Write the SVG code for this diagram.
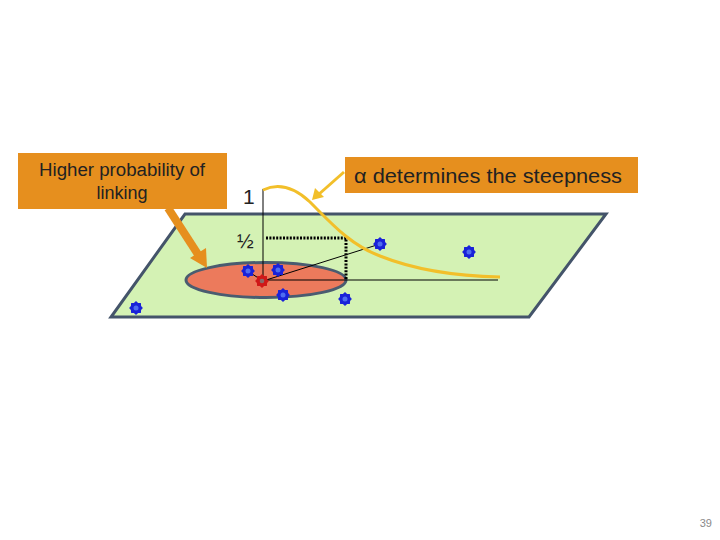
<svg xmlns="http://www.w3.org/2000/svg" xmlns:xlink="http://www.w3.org/1999/xlink" width="720" height="540" viewBox="0 0 720 540">
<style>
  .lbl { font-family: "Liberation Sans", Arial, sans-serif; fill: #222; }
  .thin { stroke: #000; stroke-width: 1; fill: none; }
  .dots { stroke: #000; stroke-width: 3; stroke-dasharray: 2 1.4; fill: none; }
</style>
<defs>
  <polygon id="gear" transform="scale(1.15)" points="6,0 4.43,1.84 4.24,4.24 1.84,4.43 0,6 -1.84,4.43 -4.24,4.24 -4.43,1.84 -6,0 -4.43,-1.84 -4.24,-4.24 -1.84,-4.43 0,-6 1.84,-4.43 4.24,-4.24 4.43,-1.84"/>
  <g id="bnode"><use xlink:href="#gear" fill="#1a22d8"/><circle r="2.5" fill="#4f6cf0"/></g>
  <g id="rnode"><use xlink:href="#gear" fill="#d01818"/><circle r="2.3" fill="#8a6a6a"/></g>
</defs>
<rect width="720" height="540" fill="#fff"/>

<g id="plane">
  <polygon points="185,214 606,214 529,317 111,317" fill="#d4f2b4" stroke="#44546a" stroke-width="3"/>
</g>
<g id="region">
  <ellipse cx="266" cy="280" rx="80" ry="17.5" fill="#ec7a5c" stroke="#4a5c70" stroke-width="3"/>
</g>

<g id="connectors">
  <line class="thin" x1="263" y1="189" x2="263" y2="281"/>
  <line class="thin" x1="263" y1="280" x2="498" y2="280"/>
  <line class="thin" x1="263" y1="281" x2="380" y2="244"/>
  <line class="thin" x1="249" y1="272" x2="263" y2="281"/>
  <polyline class="dots" points="266,238 346,238 346,280"/>
  <path d="M263,190 C280,182 295,188 310,202 C330,222 350,245 380,256 C410,268 450,276 500,277" fill="none" stroke="#f2bf2a" stroke-width="3"/>
</g>

<g id="nodes">
  <use xlink:href="#bnode" x="136" y="308"/>
  <use xlink:href="#bnode" x="248" y="271"/>
  <use xlink:href="#bnode" x="278" y="270"/>
  <use xlink:href="#bnode" x="283" y="295"/>
  <use xlink:href="#bnode" x="345" y="299"/>
  <use xlink:href="#bnode" x="380" y="244"/>
  <use xlink:href="#bnode" x="469" y="252"/>
  <use xlink:href="#rnode" x="262" y="281"/>
</g>

<g id="axis-labels">
  <text class="lbl" x="243" y="204" font-size="21">1</text>
  <text class="lbl" x="237" y="248" font-size="20">½</text>
</g>

<g id="callout-linking">
  <rect x="18" y="153" width="209" height="56" fill="#e68f1e"/>
  <text class="lbl" x="122" y="176" font-size="18" text-anchor="middle" textLength="166" lengthAdjust="spacingAndGlyphs">Higher probability of</text>
  <text class="lbl" x="122" y="199" font-size="18" text-anchor="middle">linking</text>
  <line x1="168" y1="208" x2="199" y2="256" stroke="#e68f1e" stroke-width="8"/>
  <polygon points="207,268 190,258 206,248" fill="#e68f1e"/>
</g>

<g id="callout-alpha">
  <rect x="345" y="157" width="293" height="36" fill="#e68f1e"/>
  <text class="lbl" x="354" y="183" font-size="21" textLength="268" lengthAdjust="spacingAndGlyphs">α determines the steepness</text>
  <line x1="344" y1="172" x2="318" y2="195" stroke="#f2bf2a" stroke-width="3"/>
  <polygon points="312,200 315,188 324,197" fill="#f2bf2a"/>
</g>

<text x="712" y="527" font-family="Liberation Sans, Arial, sans-serif" font-size="11" fill="#8a8a8a" text-anchor="end">39</text>
</svg>
